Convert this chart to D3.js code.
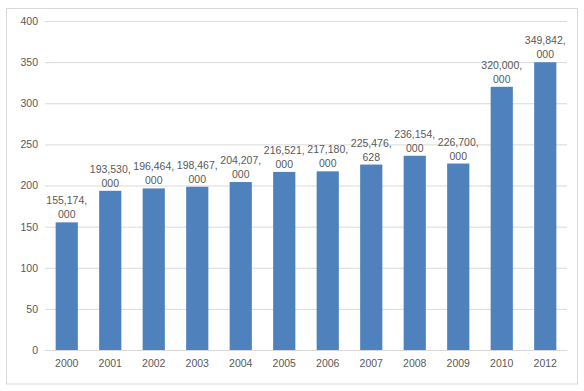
<!DOCTYPE html>
<html><head><meta charset="utf-8">
<script src="https://cdn.jsdelivr.net/npm/d3@7"></script>
<style>body{margin:0;background:#fff}svg{display:block}</style>
</head><body>
<svg id="c" width="584" height="391"></svg>
<script>
const years = ["2000","2001","2002","2003","2004","2005","2006","2007","2008","2009","2010","2012"];
const values = [155174000,193530000,196464000,198467000,204207000,216521000,217180000,225476628,236154000,226700000,320000000,349842000];
const yTicks = [0,50,100,150,200,250,300,350,400];

const svg = d3.select("#c");
const W=584,H=391;
const m={left:45,right:17,top:21,bottom:41};
const x = d3.scaleBand().domain(years).range([m.left, W-m.right]).paddingInner(0.49).paddingOuter(0.245);
const y = d3.scaleLinear().domain([0,400]).range([H-m.bottom, m.top]);
const font = "'Liberation Sans', Arial, sans-serif";
const txt = "#595959";

svg.append("rect").attr("x",6.5).attr("y",8.5).attr("width",571).attr("height",375.5)
  .attr("fill","none").attr("stroke","#d9d9d9").attr("stroke-width",1);

// gridlines
const ya = d3.axisLeft(y).tickValues(yTicks).tickSize(-(W-m.right-m.left)).tickPadding(7);
const gy = svg.append("g").attr("transform",`translate(${m.left},0)`).call(ya);
gy.select(".domain").remove();
gy.selectAll(".tick line").attr("stroke","#d9d9d9").attr("stroke-width",1);
gy.selectAll(".tick text").attr("fill",txt).attr("font-size","10.5px").attr("font-family",font);

// bars
svg.append("g").selectAll("rect").data(values).join("rect")
  .attr("x",(d,i)=>x(years[i])).attr("width",x.bandwidth())
  .attr("y",d=>y(d/1e6)).attr("height",d=>y(0)-y(d/1e6))
  .attr("fill","#4f81bd");

// x axis
const xa = d3.axisBottom(x).tickSize(0).tickPadding(10);
const gx = svg.append("g").attr("transform",`translate(0,${y(0)})`).call(xa);
gx.select(".domain").attr("stroke","#d9d9d9");
gx.selectAll(".tick text").attr("fill",txt).attr("font-size","10.5px").attr("font-family",font);

// data labels
const fmt = d3.format(",");
const lg = svg.append("g");
values.forEach((v,i)=>{
  const s = fmt(v);
  const k = s.lastIndexOf(",");
  const l1 = s.slice(0,k+1), l2 = s.slice(k+1);
  const cx = x(years[i]) + x.bandwidth()/2;
  const t = lg.append("text").attr("text-anchor","middle").attr("fill",txt)
    .attr("font-size","10.5px").attr("font-family",font);
  t.append("tspan").attr("x",cx).attr("y",y(v/1e6)-18).text(l1);
  t.append("tspan").attr("x",cx).attr("y",y(v/1e6)-4).text(l2);
});
</script>
</body></html>
